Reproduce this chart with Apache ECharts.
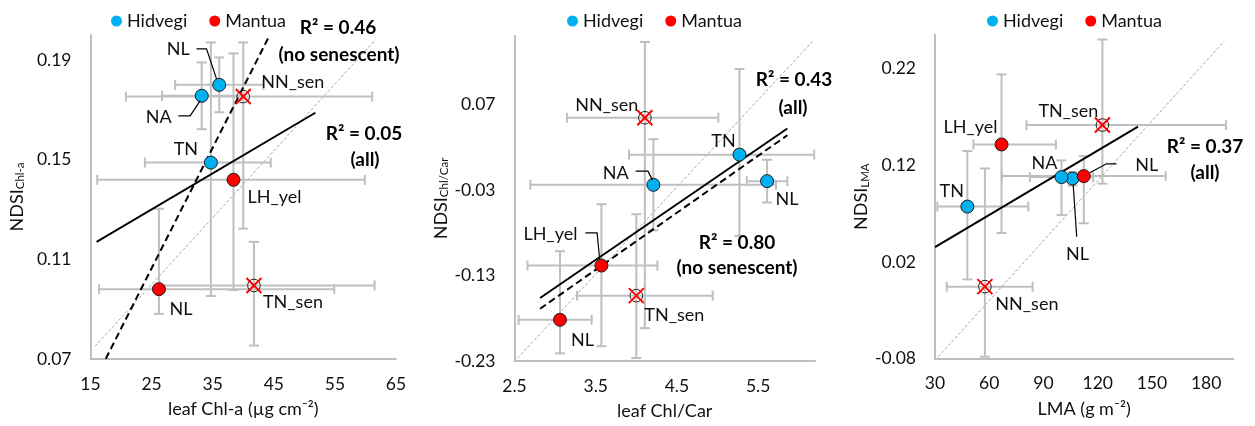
<!DOCTYPE html>
<html>
<head>
<meta charset="utf-8">
<script src="https://cdn.jsdelivr.net/npm/echarts@6/dist/echarts.min.js"></script>
<style>
  html, body { margin: 0; padding: 0; background: #fff; }
  #chart { width: 1255px; height: 426px; }
</style>
</head>
<body>
<div id="chart"></div>
<script>
// ---- Samples (same order in every panel) ----
const pointNames  = ['NL', 'NA', 'TN', 'NL', 'LH_yel', 'NN_sen', 'TN_sen'];
const pointSites  = ['Hidvegi', 'Hidvegi', 'Hidvegi', 'Mantua', 'Mantua', 'Mantua', 'Mantua'];
const isSenescent = [false, false, false, false, false, true, true];

// ---- Panel 1: NDSI(Chl-a) vs leaf Chl-a ----
const chlA_x     = [36.07, 33.2, 34.7, 26.2, 38.4, 40.0, 41.75];
const chlA_y     = [0.180, 0.1756, 0.1488, 0.098, 0.1419, 0.1753, 0.0995];
const chlA_xLow  = [28.85, 26.7, 23.9, 16.4, 16.1, 20.8, 26.3];
const chlA_xHigh = [43.3, 39.7, 44.5, 54.9, 59.9, 61.1, 61.5];
const chlA_yLow  = [0.169, 0.1622, 0.0953, 0.0881, 0.0977, 0.1223, 0.0754];
const chlA_yHigh = [0.191, 0.189, 0.197, 0.1303, 0.1926, 0.197, 0.117];
const chlA_fitAll_x   = [16.0, 51.8];
const chlA_fitAll_y   = [0.117, 0.1688];
const chlA_fitNoSen_x = [17.5, 44.3];
const chlA_fitNoSen_y = [0.0701, 0.1998];
const chlA_ref_x      = [15.74, 61.6];
const chlA_ref_y      = [0.0751, 0.198];
const chlA_xTicks = [15, 25, 35, 45, 55, 65];
const chlA_yTicks = [0.07, 0.11, 0.15, 0.19];
const chlA_xMax = 65, chlA_yMax = 0.20;

// ---- Panel 2: NDSI(Chl/Car) vs leaf Chl/Car ----
const ratio_x     = [5.61, 4.21, 5.27, 3.06, 3.57, 4.105, 4.00];
const ratio_y     = [-0.0197, -0.024, 0.0113, -0.1818, -0.1184, 0.0544, -0.1536];
const ratio_xLow  = [5.36, 2.695, 3.91, 2.55, 2.66, 3.145, 3.27];
const ratio_xHigh = [5.86, 5.72, 6.19, 3.45, 4.26, 5.01, 4.94];
const ratio_yLow  = [-0.0447, -0.0772, -0.0837, -0.221, -0.2127, -0.1916, -0.2265];
const ratio_yHigh = [0.0053, 0.0293, 0.1115, -0.1016, -0.0467, 0.143, -0.0584];
const ratio_fitAll_x   = [2.815, 5.86];
const ratio_fitAll_y   = [-0.1563, 0.0418];
const ratio_fitNoSen_x = [2.815, 5.86];
const ratio_fitNoSen_y = [-0.1689, 0.034];
const ratio_ref_x      = [2.535, 6.17];
const ratio_ref_y      = [-0.2268, 0.1437];
const ratio_xTicks = [2.5, 3.5, 4.5, 5.5];
const ratio_yTicks = [-0.23, -0.13, -0.03, 0.07];
const ratio_xMax = 6.2, ratio_yMax = 0.15;

// ---- Panel 3: NDSI(LMA) vs LMA ----
const lma_x     = [106.0, 99.96, 47.9, 112.3, 66.8, 57.6, 122.6];
const lma_y     = [0.1063, 0.1078, 0.0773, 0.1088, 0.1415, -0.0055, 0.1616];
const lma_xLow  = [100, 82.5, 31.3, 67, 51.2, 36.5, 80.6];
const lma_xHigh = [112, 117.5, 81.6, 157.6, 96.9, 84, 191];
const lma_yLow  = [0.099, 0.0685, 0.002, 0.060, 0.050, -0.078, 0.101];
const lma_yHigh = [0.113, 0.125, 0.1347, 0.1295, 0.214, 0.1167, 0.25];
const lma_fitAll_x = [30, 142.3];
const lma_fitAll_y = [0.0353, 0.1599];
const lma_ref_x    = [31.8, 190.1];
const lma_ref_y    = [-0.078, 0.2486];
const lma_xTicks = [30, 60, 90, 120, 150, 180];
const lma_yTicks = [-0.08, 0.02, 0.12, 0.22];
const lma_xMax = 195, lma_yMax = 0.255;

// ---- Styling / layout ----
const FONT = 'Lato';
const TEXT = 18;
const COLORS = { Hidvegi: '#00B0F0', Mantua: '#FF0000' };
const BAR = '#BFBFBF';

const panels = [
  {
    x: chlA_x, y: chlA_y, xLow: chlA_xLow, xHigh: chlA_xHigh, yLow: chlA_yLow, yHigh: chlA_yHigh,
    fits: [[chlA_fitAll_x, chlA_fitAll_y, 'solid'], [chlA_fitNoSen_x, chlA_fitNoSen_y, 'dash']],
    ref: [chlA_ref_x, chlA_ref_y],
    xTicks: chlA_xTicks, yTicks: chlA_yTicks, xMax: chlA_xMax, yMax: chlA_yMax, xDigits: 0,
    grid: { left: 90.5, top: 35, width: 305.5, height: 324 },
    xName: 'leaf Chl-a (µg cm⁻²)', ySub: 'Chl-a',
    legendLeft: 106,
    labelPos: [[-41, -36], [-43, 21], [-25, -13], [22, 20], [41, 17], [49.5, -14], [39, 17]],
    leaders: { 0: [[-22.7, -36], [-12.7, -36], [-2.7, -6]], 1: [[-23.3, 20], [-11.6, 20], [-1.6, 5]] },
    notes: [['R² = 0.46', 338, 28], ['(no senescent)', 339, 55], ['R² = 0.05', 364, 134], ['(all)', 365, 160]]
  },
  {
    x: ratio_x, y: ratio_y, xLow: ratio_xLow, xHigh: ratio_xHigh, yLow: ratio_yLow, yHigh: ratio_yHigh,
    fits: [[ratio_fitAll_x, ratio_fitAll_y, 'solid'], [ratio_fitNoSen_x, ratio_fitNoSen_y, 'dash']],
    ref: [ratio_ref_x, ratio_ref_y],
    xTicks: ratio_xTicks, yTicks: ratio_yTicks, xMax: ratio_xMax, yMax: ratio_yMax, xDigits: 1,
    grid: { left: 514.5, top: 36, width: 300.5, height: 325 },
    xName: 'leaf Chl/Car', ySub: 'Chl/Car',
    legendLeft: 562,
    labelPos: [[20, 18], [-37.7, -12], [-16, -13], [22.5, 20], [-51, -31], [-38, -13], [38, 20]],
    leaders: { 1: [[-17.7, -13.7], [-5.4, -13.7], [-1, -4.7]], 4: [[-16, -32.7], [-4.3, -32.7], [-1.7, -6]] },
    notes: [['R² = 0.43', 794, 80], ['(all)', 793, 108], ['R² = 0.80', 737, 243], ['(no senescent)', 737, 268]]
  },
  {
    x: lma_x, y: lma_y, xLow: lma_xLow, xHigh: lma_xHigh, yLow: lma_yLow, yHigh: lma_yHigh,
    fits: [[lma_fitAll_x, lma_fitAll_y, 'solid']],
    ref: [lma_ref_x, lma_ref_y],
    xTicks: lma_xTicks, yTicks: lma_yTicks, xMax: lma_xMax, yMax: lma_yMax, xDigits: 0,
    grid: { left: 935, top: 34.7, width: 298.3, height: 324 },
    xName: 'LMA (g m⁻²)', ySub: 'LMA',
    legendLeft: 982,
    labelPos: [[5, 76], [-17, -14], [-15.6, -15], [63, -11], [-31, -17], [42, 18], [-34, -13.6]],
    leaders: { 0: [[4.3, 58.3], [0.8, 6.3]], 3: [[32.7, -12.3], [22.7, -12.3], [6, -3.3]] },
    notes: [['R² = 0.37', 1205, 147], ['(all)', 1205, 173]]
  }
];

function tickFormatter(ticks, digits) {
  return function (v) {
    for (const t of ticks) if (Math.abs(t - v) < 1e-9 * Math.max(1, Math.abs(t)) + 1e-9) return v.toFixed(digits);
    return '';
  };
}

const grids = [], xAxes = [], yAxes = [], series = [], legends = [], graphics = [];

panels.forEach(function (p, i) {
  grids.push(p.grid);
  const xStep = p.xTicks[1] - p.xTicks[0];
  const yStep = p.yTicks[1] - p.yTicks[0];
  xAxes.push({
    type: 'value', gridIndex: i, min: p.xTicks[0], max: p.xMax, interval: xStep,
    axisLine: { show: true, onZero: false, lineStyle: { color: BAR, width: 2 } },
    axisTick: { show: false }, splitLine: { show: false },
    axisLabel: { margin: 16, fontFamily: FONT, fontSize: 17.5, color: '#111', formatter: tickFormatter(p.xTicks, p.xDigits) },
    name: p.xName, nameLocation: 'middle', nameGap: 41,
    nameTextStyle: { fontFamily: FONT, fontSize: TEXT, color: '#111' }
  });
  yAxes.push({
    type: 'value', gridIndex: i, min: p.yTicks[0], max: p.yMax, interval: yStep,
    axisLine: { show: true, onZero: false, lineStyle: { color: BAR, width: 2 } },
    axisTick: { show: false }, splitLine: { show: false },
    axisLabel: { margin: 19, fontFamily: FONT, fontSize: 17.5, color: '#111', formatter: tickFormatter(p.yTicks, 2) },
    name: '{m|NDSI}{s|' + p.ySub + '}', nameLocation: 'middle', nameGap: 64,
    nameTextStyle: {
      fontFamily: FONT, fontSize: TEXT, color: '#111',
      rich: {
        m: { fontFamily: FONT, fontSize: TEXT, color: '#111' },
        s: { fontFamily: FONT, fontSize: 11.5, color: '#111', verticalAlign: 'bottom', padding: [7, 0, 0, 0] }
      }
    }
  });

  const rows = p.x.map(function (_, k) {
    return [p.x[k], p.y[k], p.xLow[k], p.xHigh[k], p.yLow[k], p.yHigh[k], k];
  });

  // 1:1 reference line
  series.push({
    type: 'line', xAxisIndex: i, yAxisIndex: i, silent: true, showSymbol: false, z: 1,
    data: p.ref[0].map(function (v, k) { return [v, p.ref[1][k]]; }),
    lineStyle: { color: '#A6A6A6', width: 1, type: [3, 2] }
  });

  // error bars
  series.push({
    type: 'custom', xAxisIndex: i, yAxisIndex: i, silent: true, z: 2,
    data: rows, encode: { x: [0, 2, 3], y: [1, 4, 5] },
    renderItem: function (params, api) {
      const c = api.coord([api.value(0), api.value(1)]);
      const xl = api.coord([api.value(2), api.value(1)])[0];
      const xh = api.coord([api.value(3), api.value(1)])[0];
      const yl = api.coord([api.value(0), api.value(4)])[1];
      const yh = api.coord([api.value(0), api.value(5)])[1];
      const cap = 5;
      const st = { stroke: BAR, lineWidth: 2 };
      const L = function (x1, y1, x2, y2) { return { type: 'line', shape: { x1: x1, y1: y1, x2: x2, y2: y2 }, style: st }; };
      return {
        type: 'group', children: [
          L(xl, c[1], xh, c[1]), L(xl, c[1] - cap, xl, c[1] + cap), L(xh, c[1] - cap, xh, c[1] + cap),
          L(c[0], yl, c[0], yh), L(c[0] - cap, yl, c[0] + cap, yl), L(c[0] - cap, yh, c[0] + cap, yh)
        ]
      };
    }
  });

  // regression lines
  p.fits.forEach(function (f) {
    series.push({
      type: 'line', xAxisIndex: i, yAxisIndex: i, silent: true, showSymbol: false, z: 3,
      data: f[0].map(function (v, k) { return [v, f[1][k]]; }),
      lineStyle: { color: '#000', width: 2, type: f[2] === 'dash' ? [7, 4] : 'solid' }
    });
  });

  // live samples by site
  ['Hidvegi', 'Mantua'].forEach(function (site) {
    series.push({
      name: site, type: 'scatter', xAxisIndex: i, yAxisIndex: i, z: 5, symbolSize: 13,
      data: rows.filter(function (r) { return pointSites[r[6]] === site && !isSenescent[r[6]]; })
                .map(function (r) { return [r[0], r[1]]; }),
      itemStyle: { color: COLORS[site], borderColor: '#1e1e1e', borderWidth: 1, opacity: 1 }
    });
  });

  // senescent samples: open circle crossed in red
  series.push({
    type: 'custom', xAxisIndex: i, yAxisIndex: i, silent: true, z: 6,
    data: rows.filter(function (r) { return isSenescent[r[6]]; }).map(function (r) { return [r[0], r[1]]; }),
    renderItem: function (params, api) {
      const c = api.coord([api.value(0), api.value(1)]);
      const d = 7.5;
      const red = { stroke: '#FF0000', lineWidth: 2 };
      return {
        type: 'group', children: [
          { type: 'circle', shape: { cx: c[0], cy: c[1], r: 6.3 }, style: { fill: 'rgba(255,255,255,0.15)', stroke: '#1e1e1e', lineWidth: 1 } },
          { type: 'line', shape: { x1: c[0] - d, y1: c[1] - d, x2: c[0] + d, y2: c[1] + d }, style: red },
          { type: 'line', shape: { x1: c[0] - d, y1: c[1] + d, x2: c[0] + d, y2: c[1] - d }, style: red }
        ]
      };
    }
  });

  // sample names with leader lines
  series.push({
    type: 'custom', xAxisIndex: i, yAxisIndex: i, silent: true, z: 7,
    data: rows.map(function (r) { return [r[0], r[1], r[6]]; }),
    renderItem: function (params, api) {
      const c = api.coord([api.value(0), api.value(1)]);
      const k = api.value(2);
      const off = p.labelPos[k];
      const children = [{
        type: 'text',
        style: { text: pointNames[k], x: c[0] + off[0], y: c[1] + off[1], fill: '#111',
                 font: TEXT + 'px ' + FONT, align: 'center', verticalAlign: 'middle' }
      }];
      if (p.leaders[k]) {
        children.push({
          type: 'polyline',
          shape: { points: p.leaders[k].map(function (q) { return [c[0] + q[0], c[1] + q[1]]; }) },
          style: { stroke: '#000', lineWidth: 1.2, fill: null }
        });
      }
      return { type: 'group', children: children };
    }
  });

  legends.push({
    data: ['Hidvegi', 'Mantua'], left: p.legendLeft, top: 7, icon: 'circle',
    itemWidth: 11, itemHeight: 11, itemGap: 22, selectedMode: false,
    itemStyle: { borderWidth: 0 },
    textStyle: { fontFamily: FONT, fontSize: TEXT, color: '#111' }
  });

  p.notes.forEach(function (n) {
    graphics.push({
      type: 'text', z: 10,
      style: { text: n[0], x: n[1], y: n[2], fill: '#000', font: 'bold 19px ' + FONT,
               align: 'center', verticalAlign: 'middle' }
    });
  });
});

const chart = echarts.init(document.getElementById('chart'), null, { renderer: 'canvas' });
chart.setOption({
  animation: false,
  backgroundColor: '#fff',
  grid: grids, xAxis: xAxes, yAxis: yAxes,
  legend: legends, series: series, graphic: graphics
});
</script>
</body>
</html>
